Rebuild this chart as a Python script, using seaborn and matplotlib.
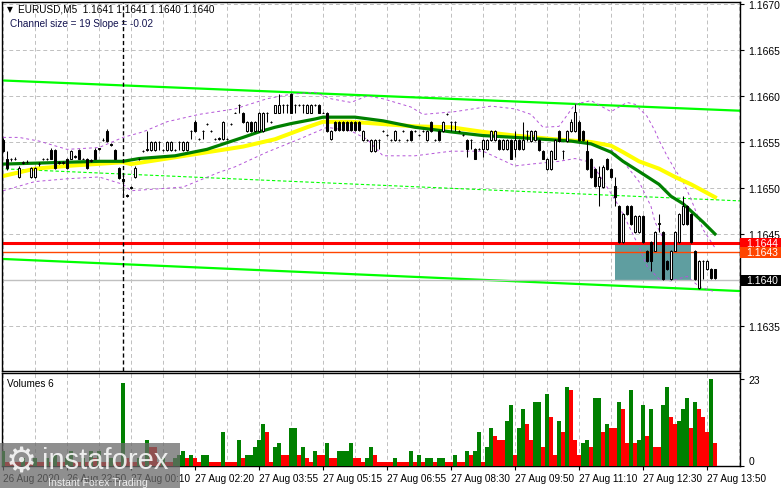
import matplotlib
matplotlib.use("Agg")
import matplotlib.pyplot as plt
import matplotlib.transforms as mtransforms
from matplotlib.patches import Rectangle
import numpy as np
import pandas as pd
import seaborn as sns

symbol_title = "EURUSD,M5  1.1641 1.1641 1.1640 1.1640"
channel_title = "Channel size = 19 Slope = -0.02"
volume_title = "Volumes 6"

# EURUSD M5 candles (bar 0 = left edge)
opens = [
    1.16552, 1.16532, 1.16531, 1.16532, 1.16512, 1.16527, 1.16528, 1.16512, 1.16512, 1.16526,
    1.16532, 1.16531, 1.16541, 1.16541, 1.16528, 1.16527, 1.16532, 1.16532, 1.16534, 1.16541,
    1.16532, 1.16532, 1.16529, 1.16541, 1.16542, 1.16552, 1.16562, 1.16548, 1.16541, 1.16522,
    1.16510, 1.16492, 1.16500, 1.16512, 1.16532, 1.16540, 1.16541, 1.16541, 1.16541, 1.16550,
    1.16541, 1.16541, 1.16541, 1.16541, 1.16550, 1.16541, 1.16541, 1.16562, 1.16572, 1.16553,
    1.16562, 1.16570, 1.16562, 1.16553, 1.16553, 1.16553, 1.16553, 1.16570, 1.16582, 1.16590,
    1.16582, 1.16562, 1.16572, 1.16562, 1.16562, 1.16562, 1.16582, 1.16572, 1.16582, 1.16582,
    1.16590, 1.16590, 1.16602, 1.16590, 1.16590, 1.16590, 1.16582, 1.16582, 1.16590, 1.16590,
    1.16582, 1.16582, 1.16553, 1.16572, 1.16572, 1.16572, 1.16572, 1.16572, 1.16572, 1.16572,
    1.16552, 1.16552, 1.16540, 1.16540, 1.16552, 1.16562, 1.16558, 1.16552, 1.16552, 1.16552,
    1.16562, 1.16552, 1.16562, 1.16562, 1.16558, 1.16562, 1.16552, 1.16572, 1.16552, 1.16562,
    1.16562, 1.16580, 1.16572, 1.16572, 1.16562, 1.16558, 1.16552, 1.16552, 1.16542, 1.16542,
    1.16542, 1.16542, 1.16552, 1.16552, 1.16552, 1.16542, 1.16542, 1.16552, 1.16542, 1.16552,
    1.16542, 1.16562, 1.16551, 1.16552, 1.16552, 1.16540, 1.16521, 1.16521, 1.16532, 1.16562,
    1.16540, 1.16551, 1.16562, 1.16562, 1.16572, 1.16562, 1.16540, 1.16532, 1.16521, 1.16502,
    1.16501, 1.16532, 1.16521, 1.16502, 1.16480, 1.16441, 1.16480, 1.16480, 1.16452, 1.16452,
    1.16470, 1.16432, 1.16441, 1.16432, 1.16461, 1.16452, 1.16421, 1.16401, 1.16432, 1.16441,
    1.16461, 1.16480, 1.16472, 1.16432, 1.16391, 1.16421, 1.16412, 1.16412, 1.16412,
]
highs = [
    1.16554, 1.16540, 1.16533, 1.16534, 1.16524, 1.16529, 1.16530, 1.16523, 1.16523, 1.16528,
    1.16533, 1.16533, 1.16543, 1.16542, 1.16529, 1.16529, 1.16533, 1.16541, 1.16536, 1.16542,
    1.16533, 1.16533, 1.16531, 1.16543, 1.16544, 1.16554, 1.16564, 1.16549, 1.16542, 1.16523,
    1.16514, 1.16494, 1.16502, 1.16524, 1.16533, 1.16541, 1.16562, 1.16551, 1.16551, 1.16551,
    1.16542, 1.16551, 1.16551, 1.16542, 1.16551, 1.16551, 1.16551, 1.16563, 1.16574, 1.16554,
    1.16563, 1.16571, 1.16563, 1.16554, 1.16555, 1.16573, 1.16554, 1.16571, 1.16583, 1.16591,
    1.16583, 1.16573, 1.16573, 1.16573, 1.16583, 1.16583, 1.16583, 1.16573, 1.16590, 1.16602,
    1.16591, 1.16591, 1.16603, 1.16591, 1.16591, 1.16591, 1.16591, 1.16591, 1.16591, 1.16591,
    1.16583, 1.16583, 1.16563, 1.16573, 1.16573, 1.16573, 1.16573, 1.16573, 1.16573, 1.16573,
    1.16563, 1.16553, 1.16553, 1.16553, 1.16553, 1.16563, 1.16559, 1.16553, 1.16563, 1.16553,
    1.16563, 1.16553, 1.16563, 1.16563, 1.16559, 1.16563, 1.16563, 1.16573, 1.16553, 1.16563,
    1.16573, 1.16581, 1.16573, 1.16573, 1.16563, 1.16559, 1.16553, 1.16553, 1.16543, 1.16543,
    1.16553, 1.16553, 1.16563, 1.16563, 1.16553, 1.16553, 1.16553, 1.16553, 1.16562, 1.16553,
    1.16572, 1.16563, 1.16563, 1.16563, 1.16553, 1.16541, 1.16533, 1.16541, 1.16553, 1.16563,
    1.16541, 1.16563, 1.16575, 1.16591, 1.16574, 1.16563, 1.16552, 1.16533, 1.16522, 1.16524,
    1.16525, 1.16533, 1.16522, 1.16512, 1.16481, 1.16473, 1.16481, 1.16481, 1.16471, 1.16471,
    1.16471, 1.16433, 1.16442, 1.16453, 1.16472, 1.16453, 1.16422, 1.16433, 1.16453, 1.16473,
    1.16491, 1.16481, 1.16473, 1.16433, 1.16422, 1.16422, 1.16422, 1.16413, 1.16412,
]
lows = [
    1.16539, 1.16520, 1.16529, 1.16530, 1.16511, 1.16526, 1.16527, 1.16511, 1.16511, 1.16524,
    1.16530, 1.16530, 1.16531, 1.16521, 1.16526, 1.16526, 1.16521, 1.16531, 1.16533, 1.16531,
    1.16531, 1.16521, 1.16528, 1.16531, 1.16541, 1.16551, 1.16550, 1.16546, 1.16531, 1.16510,
    1.16490, 1.16490, 1.16499, 1.16511, 1.16530, 1.16539, 1.16540, 1.16540, 1.16540, 1.16541,
    1.16540, 1.16540, 1.16540, 1.16540, 1.16541, 1.16540, 1.16540, 1.16553, 1.16561, 1.16552,
    1.16553, 1.16569, 1.16561, 1.16552, 1.16552, 1.16552, 1.16552, 1.16569, 1.16581, 1.16582,
    1.16571, 1.16561, 1.16561, 1.16561, 1.16561, 1.16561, 1.16572, 1.16571, 1.16581, 1.16581,
    1.16582, 1.16582, 1.16581, 1.16582, 1.16589, 1.16582, 1.16581, 1.16581, 1.16589, 1.16581,
    1.16581, 1.16561, 1.16552, 1.16562, 1.16562, 1.16562, 1.16562, 1.16562, 1.16562, 1.16562,
    1.16551, 1.16551, 1.16539, 1.16539, 1.16542, 1.16561, 1.16557, 1.16551, 1.16551, 1.16551,
    1.16561, 1.16551, 1.16551, 1.16561, 1.16557, 1.16561, 1.16551, 1.16561, 1.16551, 1.16551,
    1.16561, 1.16579, 1.16562, 1.16562, 1.16561, 1.16557, 1.16534, 1.16542, 1.16531, 1.16541,
    1.16534, 1.16541, 1.16551, 1.16551, 1.16541, 1.16541, 1.16541, 1.16531, 1.16534, 1.16541,
    1.16541, 1.16551, 1.16550, 1.16551, 1.16540, 1.16531, 1.16520, 1.16520, 1.16531, 1.16550,
    1.16531, 1.16550, 1.16561, 1.16561, 1.16551, 1.16551, 1.16520, 1.16511, 1.16501, 1.16480,
    1.16500, 1.16520, 1.16511, 1.16480, 1.16440, 1.16440, 1.16471, 1.16460, 1.16451, 1.16451,
    1.16440, 1.16420, 1.16410, 1.16431, 1.16452, 1.16400, 1.16411, 1.16400, 1.16431, 1.16440,
    1.16460, 1.16460, 1.16440, 1.16400, 1.16390, 1.16401, 1.16411, 1.16401, 1.16401,
]
closes = [
    1.16540, 1.16522, 1.16532, 1.16531, 1.16522, 1.16528, 1.16528, 1.16522, 1.16522, 1.16526,
    1.16531, 1.16532, 1.16532, 1.16522, 1.16527, 1.16528, 1.16522, 1.16540, 1.16535, 1.16532,
    1.16532, 1.16522, 1.16530, 1.16532, 1.16543, 1.16552, 1.16551, 1.16547, 1.16532, 1.16511,
    1.16508, 1.16491, 1.16501, 1.16522, 1.16531, 1.16540, 1.16542, 1.16550, 1.16550, 1.16550,
    1.16541, 1.16550, 1.16550, 1.16541, 1.16550, 1.16550, 1.16550, 1.16562, 1.16562, 1.16553,
    1.16562, 1.16570, 1.16562, 1.16553, 1.16554, 1.16572, 1.16553, 1.16570, 1.16582, 1.16590,
    1.16572, 1.16572, 1.16562, 1.16572, 1.16582, 1.16582, 1.16582, 1.16572, 1.16590, 1.16590,
    1.16590, 1.16590, 1.16582, 1.16590, 1.16590, 1.16590, 1.16590, 1.16590, 1.16590, 1.16582,
    1.16582, 1.16562, 1.16562, 1.16563, 1.16563, 1.16563, 1.16563, 1.16563, 1.16563, 1.16563,
    1.16562, 1.16552, 1.16552, 1.16552, 1.16552, 1.16562, 1.16558, 1.16552, 1.16562, 1.16552,
    1.16562, 1.16552, 1.16552, 1.16562, 1.16558, 1.16562, 1.16562, 1.16562, 1.16552, 1.16552,
    1.16572, 1.16580, 1.16572, 1.16572, 1.16562, 1.16558, 1.16542, 1.16552, 1.16532, 1.16542,
    1.16552, 1.16552, 1.16562, 1.16562, 1.16542, 1.16552, 1.16552, 1.16532, 1.16552, 1.16542,
    1.16552, 1.16562, 1.16562, 1.16562, 1.16541, 1.16532, 1.16532, 1.16540, 1.16552, 1.16551,
    1.16540, 1.16562, 1.16572, 1.16583, 1.16552, 1.16552, 1.16521, 1.16512, 1.16502, 1.16512,
    1.16523, 1.16521, 1.16512, 1.16490, 1.16441, 1.16472, 1.16472, 1.16461, 1.16470, 1.16470,
    1.16441, 1.16421, 1.16421, 1.16452, 1.16462, 1.16401, 1.16412, 1.16432, 1.16452, 1.16472,
    1.16480, 1.16461, 1.16441, 1.16401, 1.16421, 1.16421, 1.16421, 1.16402, 1.16402,
]
volumes = [
    4, 1, 1, 1, 1, 2, 1, 1, 2, 1,
    1, 2, 1, 3, 1, 1, 2, 4, 1, 1,
    2, 1, 4, 2, 4, 1, 1, 2, 1, 1,
    22, 2, 1, 1, 2, 1, 7, 5, 5, 1,
    2, 1, 1, 2, 3, 4, 2, 3, 2, 1,
    3, 3, 1, 1, 1, 9, 1, 1, 1, 7,
    2, 3, 3, 5, 7, 11, 9, 1, 5, 6,
    3, 3, 10, 10, 3, 5, 2, 1, 4, 3,
    3, 6, 2, 2, 4, 4, 4, 6, 2, 2,
    1, 2, 5, 3, 1, 1, 1, 1, 2, 1,
    1, 1, 4, 1, 3, 1, 2, 2, 1, 2,
    2, 1, 1, 3, 1, 1, 4, 3, 4, 9,
    1, 5, 10, 8, 7, 7, 12, 16, 3, 10,
    15, 11, 7, 17, 17, 5, 19, 13, 3, 12,
    9, 21, 20, 7, 3, 6, 7, 5, 18, 18,
    9, 11, 10, 10, 17, 15, 6, 20, 6, 7,
    16, 8, 15, 5, 5, 16, 21, 13, 11, 12,
    15, 18, 10, 17, 15, 13, 9, 23, 6,
]

time_labels = ["26 Aug 2020", "26 Aug 22:50", "27 Aug 00:10", "27 Aug 02:20",
               "27 Aug 03:55", "27 Aug 05:15", "27 Aug 06:55", "27 Aug 08:30",
               "27 Aug 09:50", "27 Aug 11:10", "27 Aug 12:30", "27 Aug 13:50"]
label_bars = [0, 16, 32, 48, 64, 80, 96, 112, 128, 144, 160, 176]

# moving averages (bar, price)
green_ma_bars = [0, 24, 30, 34, 43, 51, 60, 64, 68, 72, 78, 80, 88, 95, 103, 112, 120, 128,
                 142, 147, 152, 155, 159, 164, 167, 170, 175, 178]
green_ma = [1.16526, 1.16529, 1.16529, 1.16532, 1.16535, 1.16542, 1.16555, 1.16561, 1.16566,
            1.16570, 1.16575, 1.16577, 1.16577, 1.16573, 1.16566, 1.16561, 1.16557, 1.16555,
            1.16551, 1.16548, 1.16539, 1.16529, 1.16518, 1.16504, 1.16491, 1.16483, 1.16463,
            1.16450]
yellow_ma_bars = [0, 8, 16, 30, 32, 41, 60, 68, 76, 80, 87, 103, 112, 120, 128, 138, 147,
                  152, 155, 159, 164, 168, 172, 175, 178]
yellow_ma = [1.16513, 1.16521, 1.16524, 1.16528, 1.16526, 1.16532, 1.16545, 1.16553, 1.16566,
             1.16572, 1.16572, 1.16567, 1.16566, 1.16561, 1.16557, 1.16553, 1.16550, 1.16546,
             1.16539, 1.16529, 1.16521, 1.16512, 1.16504, 1.16497, 1.16490]

# bollinger-style envelope (purple dashes)
band_upper_bars = [0, 4, 9, 16, 24, 30, 35, 41, 49, 58, 66, 72, 78, 82, 87, 91, 95, 102, 105,
                   113, 122, 128, 132, 135, 139, 143, 147, 152, 156, 158, 161, 163, 164, 166,
                   168, 170, 172, 175, 178]
band_upper = [1.16555, 1.16555, 1.16551, 1.16542, 1.16544, 1.16555, 1.16561, 1.16572, 1.16580,
              1.16586, 1.16597, 1.16602, 1.16604, 1.16597, 1.16593, 1.16600, 1.16597, 1.16588,
              1.16580, 1.16583, 1.16589, 1.16586, 1.16580, 1.16566, 1.16567, 1.16591, 1.16595,
              1.16583, 1.16593, 1.16591, 1.16578, 1.16562, 1.16552, 1.16535, 1.16520, 1.16507,
              1.16488, 1.16455, 1.16435]
band_lower_bars = [0, 8, 16, 24, 30, 32, 45, 54, 58, 66, 74, 81, 87, 91, 95, 103, 112, 120,
                   128, 132, 139, 143, 147, 150, 154, 156, 159, 161, 164, 167, 171, 174, 178]
band_lower = [1.16497, 1.16507, 1.16510, 1.16512, 1.16504, 1.16497, 1.16501, 1.16517, 1.16523,
              1.16539, 1.16553, 1.16566, 1.16562, 1.16553, 1.16535, 1.16535, 1.16540, 1.16540,
              1.16524, 1.16526, 1.16529, 1.16532, 1.16528, 1.16508, 1.16480, 1.16463, 1.16436,
              1.16415, 1.16401, 1.16399, 1.16404, 1.16393, 1.16387]
band_inner_bars = [152, 155, 159, 162, 163, 166]
band_inner = [1.16542, 1.16529, 1.16507, 1.16480, 1.16463, 1.16437]

# regression channel (ends)
channel_bars = [-0.75, 184.25]
channel_upper = [1.16617, 1.16584]
channel_mid = [1.16521, 1.16486]
channel_lower = [1.16423, 1.16388]

day_separator_bar = 30
box_bars = [153, 172]
box_prices = [1.1640, 1.1644]
level_red = 1.1644
level_orange = 1.1643
bid_price = 1.1640
price_ticks = [1.1635, 1.1640, 1.1645, 1.1650, 1.1655, 1.1660, 1.1665, 1.1670]

plt.rcParams['font.family'] = ['Liberation Sans', 'DejaVu Sans']
W, H = 781, 489
fig = plt.figure(figsize=(W / 100, H / 100), dpi=100)
fig.patch.set_facecolor('white')
ax = fig.add_axes([2 / W, 117 / H, 738 / W, 369 / H])
axv = fig.add_axes([2 / W, 22 / H, 738 / W, 93 / H])

xlim = (-0.25, 184.25)
grid_kw = dict(color='#c0c0c0', lw=0.7, ls=(0, (4, 3)), zorder=0.5)
for a in (ax, axv):
    a.set_xlim(*xlim)
    for g in range(0, 185, 8):
        a.axvline(g, **grid_kw)
    for s in a.spines.values():
        s.set_color('black')
        s.set_linewidth(1.0)
for p in price_ticks:
    ax.axhline(p, **grid_kw)

ax.add_patch(Rectangle((box_bars[0], box_prices[0]), box_bars[1] - box_bars[0],
                       box_prices[1] - box_prices[0], fc='#5f9ea0', ec='none', zorder=1))

sns.lineplot(x=channel_bars, y=channel_upper, ax=ax, color='#00ff00', linewidth=1.6, zorder=1.5)
sns.lineplot(x=channel_bars, y=channel_lower, ax=ax, color='#00ff00', linewidth=1.6, zorder=1.5)
sns.lineplot(x=channel_bars, y=channel_mid, ax=ax, color='#00ff00', linewidth=0.8,
             linestyle=(0, (3, 2)), zorder=1.5)

purple = '#b455d8'
for bx, by in ((band_upper_bars, band_upper), (band_lower_bars, band_lower),
               (band_inner_bars, band_inner)):
    sns.lineplot(x=bx, y=by, ax=ax, color=purple, linewidth=0.7,
                 linestyle=(0, (3, 3)), zorder=1.6)

sns.lineplot(x=yellow_ma_bars, y=yellow_ma, ax=ax, color='#ffff00', linewidth=2.9, zorder=2)
sns.lineplot(x=green_ma_bars, y=green_ma, ax=ax, color='#008000', linewidth=2.3, zorder=2.1)

ax.axhline(bid_price, color='#c0c0c0', lw=1.0, zorder=2.2)
ax.axhline(level_orange, color='#ff4500', lw=1.0, zorder=2.3)
ax.axhline(level_red, color='#ff0000', lw=2.2, zorder=2.4)
ax.axvline(day_separator_bar, color='black', lw=1.0, ls=(0, (3, 2)), zorder=2.6)

# candles
bars = np.arange(len(opens))
o = np.array(opens)
c = np.array(closes)
body = c - o
body[np.abs(body) < 1e-7] = 1e-7
face = np.where(c > o, 'white', 'black')
ax.vlines(bars, lows, highs, color='black', lw=0.75, zorder=3)
ax.bar(bars, body, bottom=o, width=0.55, color=face, edgecolor='black', linewidth=0.75, zorder=4)

ax.set_ylim(1.1670 - 367 / 92000, 1.1670 + 2 / 92000)
ax.set_xticks([])
ax.yaxis.tick_right()
ax.set_yticks(price_ticks)
# the bid tag below carries the 1.1640 text
ax.set_yticklabels(['' if p == bid_price else f'{p:.4f}' for p in price_ticks])
ax.tick_params(axis='y', length=3, width=0.8, pad=3, labelsize=7.5, colors='black')
ax.set_xlabel('')
ax.set_ylabel('')

# price tags on the right scale
tag_tr = mtransforms.blended_transform_factory(ax.transAxes, ax.transData)
half = 5.5 / 92000
for price, col in ((level_red, '#ff0000'), (level_orange, '#ff4500'), (bid_price, 'black')):
    ax.add_patch(Rectangle((1.0, price - half), 41 / 738, 2 * half, transform=tag_tr,
                           fc=col, ec='none', clip_on=False, zorder=10))
    ax.text(1.0 + 6 / 738, price, f'{price:.4f}', transform=tag_tr, color='white',
            fontsize=7.5, va='center', ha='left', clip_on=False, zorder=11)

# volumes
trend = []
for i, v in enumerate(volumes):
    if i == 0 or v > volumes[i - 1]:
        trend.append('up')
    elif v < volumes[i - 1]:
        trend.append('down')
    else:
        trend.append(trend[-1])
vol_df = pd.DataFrame({'bar': bars, 'volume': volumes, 'trend': trend})
sns.barplot(data=vol_df, x='bar', y='volume', hue='trend',
            palette={'up': '#008000', 'down': '#ff0000'}, native_scale=True, width=0.8,
            dodge=False, saturation=1, legend=False, linewidth=0, ax=axv, zorder=3)
axv.set_xlim(*xlim)
axv.set_ylim(0, 23 + 6 / (87 / 23))
axv.set_xlabel('')
axv.set_ylabel('')
axv.set_xticks(label_bars)
axv.set_xticklabels(time_labels, ha='left')
axv.tick_params(axis='x', length=3, width=0.8, pad=2, labelsize=7.2, colors='black')
axv.yaxis.tick_right()
axv.set_yticks([0, 23])
axv.set_yticklabels(['0', '23'])
axv.tick_params(axis='y', length=3, width=0.8, pad=3, labelsize=7.5, colors='black')
axv.get_yticklabels()[0].set_va('bottom')

# header texts
fig.text(7 / W, 1 - 10 / H, '▼', fontsize=5.5, va='center', family=['DejaVu Sans'])
fig.text(18 / W, 1 - 10 / H, symbol_title, fontsize=7.2, va='center', color='black')
fig.text(10 / W, 1 - 24 / H, channel_title, fontsize=7.2, va='center', color='#141450')
fig.text(7 / W, 1 - 384 / H, volume_title, fontsize=7.2, va='center', color='black')

# watermark
fig.patches.append(Rectangle((0, 0), 180 / W, 45 / H, transform=fig.transFigure,
                             fc='#6a6a6a', ec='none', alpha=0.75, zorder=20))
fig.text(21 / W, 1 - 463 / H, '⚙', fontsize=25, family=['DejaVu Sans'], color='white',
         alpha=0.85, ha='center', va='center', zorder=21)
fig.text(42 / W, 1 - 461 / H, 'instaforex', fontsize=21, color='white', alpha=0.85,
         va='center', zorder=21)
fig.text(48 / W, 1 - 483 / H, 'Instant Forex Trading', fontsize=7.6, color='white',
         alpha=0.85, va='center', zorder=21)

fig.savefig('out.png', dpi=100)
